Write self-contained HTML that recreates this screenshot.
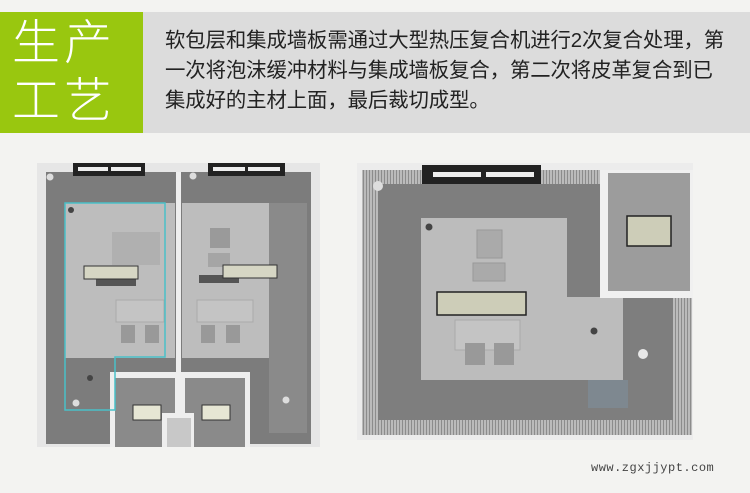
<!DOCTYPE html>
<html><head><meta charset="utf-8"><style>
body{margin:0;width:750px;height:493px;background:#f3f3f1;position:relative;overflow:hidden;font-family:"Liberation Sans","Noto Sans CJK SC",sans-serif}
.g{position:absolute;left:0;top:12px;width:143px;height:121px;background:#99c70f}
.g div{position:absolute;left:12px;color:#fff;font-size:48px;font-weight:300;letter-spacing:4px;line-height:56px}
.t{position:absolute;left:143px;top:12px;width:607px;height:121px;background:#dcdcdc}
.t p{margin:0;position:absolute;left:22px;top:14px;font-size:20.4px;line-height:30px;color:#222;width:584px;letter-spacing:-0.1px}
.w{position:absolute;left:591px;top:461px;font-family:"Liberation Mono",monospace;font-size:12px;color:#444;letter-spacing:0.5px}
</style></head><body>
<div class="g"><div style="top:4px">生产</div><div style="top:62px">工艺</div></div>
<div class="t"><p>软包层和集成墙板需通过大型热压复合机进行2次复合处理，第<br>一次将泡沫缓冲材料与集成墙板复合，第二次将皮革复合到已<br>集成好的主材上面，最后裁切成型。</p></div>
<svg width="750" height="493" style="position:absolute;left:0;top:0">
<defs><pattern id="h" width="3" height="3" patternUnits="userSpaceOnUse"><rect width="3" height="3" fill="#bbb"/><rect width="1" height="3" fill="#8c8c8c"/></pattern></defs>
<rect x="37" y="163" width="283" height="284" fill="#e6e6e6"/>
<rect x="46" y="172" width="130" height="272" fill="#7c7c7c"/>
<rect x="181" y="172" width="130" height="272" fill="#7c7c7c"/>
<rect x="65" y="203" width="110" height="155" fill="#bdbdbd"/>
<rect x="182" y="203" width="87" height="155" fill="#bdbdbd"/>
<rect x="269" y="203" width="38" height="230" fill="#8a8a8a"/>
<rect x="176" y="172" width="5" height="272" fill="#eee"/>
<rect x="110" y="372" width="140" height="75" fill="#eee"/>
<rect x="115" y="378" width="60" height="69" fill="#8a8a8a"/>
<rect x="185" y="378" width="60" height="69" fill="#8a8a8a"/>
<rect x="162" y="413" width="32" height="34" fill="#eee"/>
<rect x="167" y="418" width="24" height="29" fill="#c8c8c8"/>
<rect x="112" y="232" width="48" height="33" fill="#b0b0b0"/>
<rect x="116" y="300" width="48" height="22" fill="#c4c4c4" stroke="#aaa"/>
<rect x="121" y="325" width="14" height="18" fill="#999"/><rect x="145" y="325" width="14" height="18" fill="#999"/>
<rect x="197" y="300" width="56" height="22" fill="#c4c4c4" stroke="#aaa"/>
<rect x="201" y="325" width="14" height="18" fill="#999"/><rect x="226" y="325" width="14" height="18" fill="#999"/>
<rect x="210" y="228" width="20" height="20" fill="#9a9a9a"/><rect x="208" y="253" width="22" height="14" fill="#a5a5a5"/>
<rect x="96" y="278" width="40" height="8" fill="#555"/><rect x="199" y="275" width="40" height="8" fill="#555"/>
<polygon points="65,203 165,203 165,357 115,357 115,410 65,410" fill="none" stroke="#49c0c8" stroke-width="1.5"/>
<rect x="73" y="163" width="72" height="13" fill="#222"/><rect x="78" y="167" width="30" height="4" fill="#eee"/><rect x="111" y="167" width="30" height="4" fill="#eee"/>
<rect x="208" y="163" width="77" height="13" fill="#222"/><rect x="213" y="167" width="32" height="4" fill="#eee"/><rect x="248" y="167" width="32" height="4" fill="#eee"/>
<rect x="84" y="266" width="54" height="13" fill="#d6d6c4" stroke="#333"/>
<rect x="223" y="265" width="54" height="13" fill="#d6d6c4" stroke="#333"/>
<rect x="133" y="405" width="28" height="15" fill="#e6e6d4" stroke="#333"/>
<rect x="202" y="405" width="28" height="15" fill="#e6e6d4" stroke="#333"/>
<circle cx="71" cy="210" r="3" fill="#444"/><circle cx="90" cy="378" r="3" fill="#444"/>
<circle cx="50" cy="177" r="3.5" fill="#ddd"/><circle cx="193" cy="176" r="3.5" fill="#ddd"/><circle cx="286" cy="400" r="3.5" fill="#ddd"/><circle cx="76" cy="403" r="3.5" fill="#ddd"/>
<rect x="357" y="163" width="336" height="277" fill="#ececec"/>
<rect x="362" y="170" width="330" height="265" fill="url(#h)"/>
<rect x="378" y="184" width="295" height="236" fill="#7e7e7e"/>
<rect x="421" y="218" width="146" height="162" fill="#bcbcbc"/>
<rect x="567" y="297" width="56" height="83" fill="#bcbcbc"/>
<rect x="600" y="170" width="93" height="128" fill="#f0f0f0"/>
<rect x="608" y="173" width="82" height="118" fill="#9c9c9c"/>
<rect x="422" y="165" width="119" height="19" fill="#222"/><rect x="433" y="172" width="48" height="5" fill="#eee"/><rect x="486" y="172" width="48" height="5" fill="#eee"/>
<rect x="477" y="230" width="25" height="28" fill="#aaa" stroke="#999"/><rect x="473" y="263" width="32" height="18" fill="#aaa" stroke="#999"/>
<rect x="455" y="320" width="65" height="30" fill="#c4c4c4" stroke="#aaa"/>
<rect x="465" y="343" width="20" height="22" fill="#999"/><rect x="494" y="343" width="20" height="22" fill="#999"/>
<rect x="588" y="380" width="40" height="28" fill="#7e8890"/>
<rect x="437" y="292" width="89" height="23" fill="#cdcdb8" stroke="#222" stroke-width="1.5"/>
<rect x="627" y="216" width="44" height="30" fill="#cdcdb8" stroke="#222" stroke-width="1.5"/>
<circle cx="429" cy="227" r="3.5" fill="#444"/><circle cx="594" cy="331" r="3.5" fill="#444"/>
<circle cx="378" cy="186" r="5" fill="#ddd"/><circle cx="643" cy="354" r="5" fill="#e8e8e8"/>
</svg>
<div class="w">www.zgxjjypt.com</div>
</body></html>
